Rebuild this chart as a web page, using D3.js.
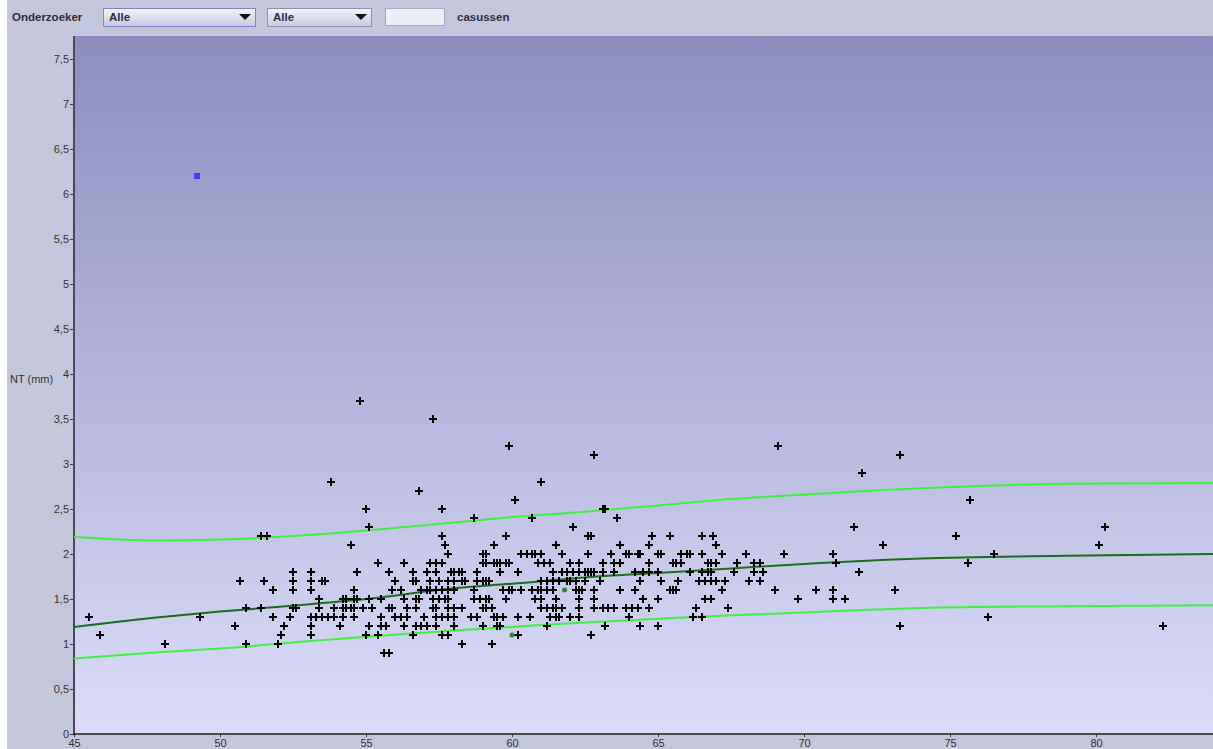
<!DOCTYPE html>
<html>
<head>
<meta charset="utf-8">
<script src="https://d3js.org/d3.v7.min.js"></script>
<style>
  body { margin: 0; background: #fff; }
  svg { display: block; font-family: "Liberation Sans", Arial, sans-serif; }
</style>
</head>
<body>
<div id="chart"></div>
<script>
// NT (mm) rows, each with the ages (x) of the measurements at that NT value
const age_0_9 = [55.6, 55.8];
const age_1_0 = [48.1, 50.9, 52.0, 58.3, 59.3];
const age_1_1 = [45.9, 52.1, 53.1, 55.0, 55.4, 56.6, 57.6, 57.8, 60.2, 62.7];
const age_1_2 = [50.5, 52.2, 53.1, 54.1, 55.1, 55.5, 55.7, 56.3, 56.7, 56.9, 57.1, 57.4, 58.0, 59.0, 59.5, 59.6, 61.2, 63.2, 64.4, 65.0, 73.3, 82.3];
const age_1_3 = [45.5, 49.3, 51.8, 52.4, 53.1, 53.3, 53.5, 53.7, 53.9, 54.2, 54.6, 55.5, 56.0, 56.2, 56.4, 57.0, 57.4, 57.6, 57.8, 58.0, 58.6, 58.8, 59.4, 59.5, 59.7, 60.2, 60.6, 61.3, 61.5, 61.6, 62.0, 62.3, 64.0, 66.2, 66.5, 76.3];
const age_1_4 = [50.9, 51.4, 52.5, 52.6, 53.4, 53.9, 54.2, 54.3, 54.5, 54.6, 54.9, 55.2, 55.8, 55.9, 56.4, 56.7, 57.3, 57.4, 57.8, 58.0, 58.3, 59.0, 59.1, 59.3, 61.0, 61.2, 61.4, 61.5, 61.7, 62.3, 62.8, 63.1, 63.3, 63.5, 63.9, 64.1, 64.3, 64.7, 66.3, 67.4];
const age_1_5 = [53.4, 54.2, 54.3, 54.6, 54.7, 55.1, 55.5, 56.3, 56.7, 56.8, 57.3, 57.5, 57.7, 57.8, 58.7, 58.9, 59.1, 59.2, 59.8, 60.8, 61.0, 61.5, 62.3, 62.8, 64.5, 65.0, 66.6, 66.8, 69.8, 71.0, 71.4];
const age_1_6 = [51.8, 52.5, 53.1, 54.6, 55.9, 56.2, 56.9, 57.1, 57.2, 57.4, 57.6, 57.8, 58.0, 58.7, 59.7, 59.9, 60.0, 60.3, 60.7, 60.9, 61.0, 61.2, 61.4, 62.2, 62.3, 62.4, 62.8, 63.7, 64.2, 65.4, 65.5, 65.6, 67.2, 69.0, 70.4, 71.0, 73.1];
const age_1_7 = [50.7, 51.5, 52.5, 53.1, 53.5, 53.6, 56.0, 56.6, 56.7, 57.2, 57.5, 57.8, 58.0, 58.3, 58.4, 58.8, 59.0, 59.1, 59.2, 61.0, 61.2, 61.4, 61.6, 61.9, 62.0, 62.2, 62.5, 63.0, 64.4, 65.1, 65.7, 66.4, 66.6, 66.8, 67.0, 67.3, 68.1, 68.5];
const age_1_8 = [52.5, 53.1, 54.7, 55.8, 56.6, 57.1, 57.4, 57.9, 58.0, 58.2, 58.3, 58.8, 59.6, 60.2, 61.4, 61.7, 61.9, 62.1, 62.3, 62.5, 62.6, 62.7, 62.8, 63.1, 63.5, 64.2, 64.5, 64.7, 65.0, 66.1, 66.5, 66.7, 66.8, 67.6, 68.3, 68.6, 71.9];
const age_1_9 = [55.4, 56.3, 57.2, 57.4, 57.6, 59.0, 59.1, 59.4, 59.5, 59.6, 59.8, 59.9, 60.9, 61.1, 61.3, 62.0, 62.3, 63.1, 63.5, 63.7, 64.7, 65.5, 65.6, 65.8, 66.7, 66.8, 67.0, 67.7, 68.3, 68.5, 71.1, 75.6];
const age_2_0 = [57.8, 59.0, 59.1, 60.3, 60.5, 60.7, 60.8, 61.0, 61.7, 62.6, 63.4, 63.9, 64.0, 64.3, 64.4, 65.0, 65.1, 65.8, 66.0, 66.1, 66.5, 67.2, 68.0, 69.3, 71.0, 76.5];
const age_2_1 = [54.5, 57.7, 59.4, 61.5, 63.7, 64.7, 67.0, 72.7, 80.1];
const age_2_2 = [51.4, 51.6, 57.6, 59.8, 62.6, 62.7, 64.8, 65.4, 66.5, 66.9, 75.2];
const age_2_3 = [55.1, 62.1, 71.7, 80.3];
const age_2_4 = [58.7, 60.7, 63.6];
const age_2_5 = [55.0, 57.6, 63.1, 63.2];
const age_2_6 = [60.1, 75.7];
const age_2_7 = [56.8];
const age_2_8 = [53.8, 61.0];
const age_2_9 = [72.0];
const age_3_1 = [62.8, 73.3];
const age_3_2 = [59.9, 69.1];
const age_3_5 = [57.3];
const age_3_7 = [54.8];

const ntLevels = [0.9, 1.0, 1.1, 1.2, 1.3, 1.4, 1.5, 1.6, 1.7, 1.8, 1.9, 2.0, 2.1, 2.2, 2.3, 2.4, 2.5, 2.6, 2.7, 2.8, 2.9, 3.1, 3.2, 3.5, 3.7];
const agesPerLevel = [age_0_9, age_1_0, age_1_1, age_1_2, age_1_3, age_1_4, age_1_5, age_1_6, age_1_7, age_1_8, age_1_9, age_2_0, age_2_1, age_2_2, age_2_3, age_2_4, age_2_5, age_2_6, age_2_7, age_2_8, age_2_9, age_3_1, age_3_2, age_3_5, age_3_7];

// reference curves (median, upper and lower limit)
const curveAge = [45, 48, 50, 53, 55, 58, 60, 62.5, 65, 67.5, 70, 74, 79, 84.1];
const medianNT = [1.19, 1.30, 1.36, 1.44, 1.50, 1.62, 1.67, 1.74, 1.79, 1.84, 1.89, 1.95, 1.98, 2.00];
const upperNT  = [2.19, 2.15, 2.16, 2.21, 2.26, 2.35, 2.41, 2.47, 2.54, 2.61, 2.66, 2.73, 2.78, 2.79];
const lowerNT  = [0.84, 0.91, 0.95, 1.03, 1.08, 1.15, 1.19, 1.24, 1.28, 1.32, 1.35, 1.40, 1.42, 1.43];

// special marks
const greenDots = [[60.0, 1.1], [61.8, 1.6]];
const blueMark = [49.2, 6.2];

const xTicks = [45, 50, 55, 60, 65, 70, 75, 80];
const yTicks = [0, 0.5, 1, 1.5, 2, 2.5, 3, 3.5, 4, 4.5, 5, 5.5, 6, 6.5, 7, 7.5];

const width = 1213, height = 749;
const plotLeft = 74, plotTop = 36, plotBottom = 734, plotRight = 1213;

const svg = d3.select("#chart").append("svg")
    .attr("width", width)
    .attr("height", height);

const defs = svg.append("defs");
const pg = defs.append("linearGradient").attr("id", "plotBg")
    .attr("x1", 0).attr("y1", 0).attr("x2", 0).attr("y2", 1);
pg.append("stop").attr("offset", "0%").attr("stop-color", "#8d8dbf");
pg.append("stop").attr("offset", "100%").attr("stop-color", "#dcdcfa");
const cg = defs.append("linearGradient").attr("id", "comboBg")
    .attr("x1", 0).attr("y1", 0).attr("x2", 0).attr("y2", 1);
cg.append("stop").attr("offset", "0%").attr("stop-color", "#f3f4fb");
cg.append("stop").attr("offset", "100%").attr("stop-color", "#c6c9df");

// panel background
svg.append("rect").attr("x", 7).attr("y", 0)
    .attr("width", width - 7).attr("height", height)
    .attr("fill", "#c4c7dc");

// toolbar
const tb = svg.append("g").style("font-size", "11.5px").style("font-weight", "bold").attr("fill", "#2c2c3c");
tb.append("text").attr("x", 12).attr("y", 21).text("Onderzoeker");
function combo(x0, w, focus) {
    tb.append("rect").attr("x", x0 + 0.5).attr("y", 8.5).attr("width", w).attr("height", 18)
        .attr("fill", "url(#comboBg)").attr("stroke", focus ? "#7c84c8" : "#8c90b0");
    tb.append("text").attr("x", x0 + 6).attr("y", 21).text("Alle");
    const cx = x0 + w - 10;
    tb.append("path").attr("d", `M${cx - 6},14 L${cx + 6},14 L${cx},20 Z`).attr("fill", "#111");
}
combo(103, 152, true);
combo(267, 104, false);
tb.append("rect").attr("x", 385.5).attr("y", 8.5).attr("width", 59).attr("height", 17)
    .attr("fill", "#eceef8").attr("stroke", "#a6a9c4");
tb.append("text").attr("x", 457).attr("y", 21).text("casussen");

// scales
const x = d3.scaleLinear().domain([45, 45 + (plotRight - plotLeft) / 29.2]).range([plotLeft, plotRight]);
const y = d3.scaleLinear().domain([0, (plotBottom - plotTop) / 90]).range([plotBottom, plotTop]);

// plot area
svg.append("rect").attr("x", plotLeft).attr("y", plotTop)
    .attr("width", plotRight - plotLeft).attr("height", plotBottom - plotTop)
    .attr("fill", "url(#plotBg)");

const comma = d => String(d).replace(".", ",");

// y axis
const gy = svg.append("g").attr("transform", `translate(${plotLeft},0)`)
    .call(d3.axisLeft(y).tickValues(yTicks).tickSize(4).tickPadding(1).tickFormat(comma));
gy.select(".domain").remove();
gy.selectAll(".tick line").attr("stroke", "#3a3a4a");
gy.selectAll(".tick text").attr("fill", "#333").style("font-size", "11px")
    .style("font-family", "'Liberation Sans', Arial, sans-serif");
svg.append("line").attr("x1", plotLeft).attr("x2", plotLeft).attr("y1", plotTop).attr("y2", plotBottom)
    .attr("stroke", "#4a4a5c").attr("stroke-width", 2);

// x axis
const gx = svg.append("g").attr("transform", `translate(0,${plotBottom})`)
    .call(d3.axisBottom(x).tickValues(xTicks).tickSize(3).tickPadding(2));
gx.select(".domain").remove();
gx.selectAll(".tick line").attr("stroke", "#3a3a4a");
gx.selectAll(".tick text").attr("fill", "#333").style("font-size", "11px")
    .style("font-family", "'Liberation Sans', Arial, sans-serif");
svg.append("line").attr("x1", plotLeft - 1).attr("x2", plotRight).attr("y1", plotBottom).attr("y2", plotBottom)
    .attr("stroke", "#222").attr("stroke-width", 1.5);

svg.append("text").attr("x", 10).attr("y", 383)
    .style("font-size", "11px").attr("fill", "#333").text("NT (mm)");

// reference curves
const plot = svg.append("g");
const line = d3.line().x(d => x(d[0])).y(d => y(d[1])).curve(d3.curveMonotoneX);
function curve(vals, color) {
    plot.append("path")
        .datum(curveAge.map((a, i) => [a, vals[i]]))
        .attr("d", line)
        .attr("fill", "none")
        .attr("stroke", color)
        .attr("stroke-width", 2);
}
curve(upperNT, "#3ff03f");
curve(lowerNT, "#3ff03f");
curve(medianNT, "#1b6e1b");

// measurements (snapped to whole pixels so the crosses stay sharp)
const points = ntLevels.flatMap((nt, i) => agesPerLevel[i].map(a => ({ age: a, nt: nt })));
plot.selectAll("path.pt")
    .data(points)
    .enter()
    .append("path")
    .attr("class", "pt")
    .attr("transform", d => `translate(${Math.round(x(d.age))},${Math.round(y(d.nt))})`)
    .attr("d", "M-4,0H4M0,-4V4")
    .attr("stroke", "#000")
    .attr("stroke-width", 2);

plot.selectAll("circle.gd")
    .data(greenDots)
    .enter()
    .append("circle")
    .attr("class", "gd")
    .attr("cx", d => x(d[0]))
    .attr("cy", d => y(d[1]))
    .attr("r", 2.5)
    .attr("fill", "#2a8a2a");

plot.append("rect")
    .attr("x", Math.round(x(blueMark[0])) - 3)
    .attr("y", Math.round(y(blueMark[1])) - 3)
    .attr("width", 6).attr("height", 6)
    .attr("fill", "#3f3ff5");
</script>
</body>
</html>
